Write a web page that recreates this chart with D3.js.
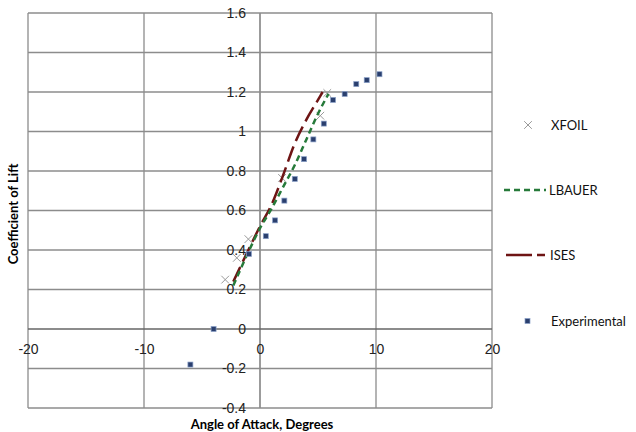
<!DOCTYPE html>
<html>
<head>
<meta charset="utf-8">
<script src="https://cdn.jsdelivr.net/npm/d3@7"></script>
<style>
  body { margin: 0; background: #fff; }
  svg { font-family: Lato, "Open Sans", sans-serif; }
  .tick text { font-size: 14px; fill: #222; }
</style>
</head>
<body>
<div class="chart"></div>
<script>
var svgWidth = 636;
var svgHeight = 432;

var margin = { top: 13, right: 144, bottom: 24, left: 28 };
var width = svgWidth - margin.left - margin.right;
var height = svgHeight - margin.top - margin.bottom;

// data: [angle, cl]
var xfoil = [[-3, 0.25], [-2, 0.36], [-1, 0.455], [1.9, 0.765], [5.2, 1.08], [5.8, 1.195]];
var lbauer = [[-2.3, 0.22], [-1, 0.39], [0, 0.51], [1, 0.61], [2, 0.72], [3, 0.83], [4, 0.96], [5, 1.09], [5.9, 1.19]];
var ises = [[-2.3, 0.24], [-1, 0.40], [0, 0.52], [1, 0.63], [2, 0.78], [3, 0.94], [4, 1.06], [5, 1.16], [5.4, 1.2]];
var experimental = [[-6, -0.18], [-4, 0], [-0.95, 0.38], [0.5, 0.47], [1.3, 0.55], [2.1, 0.65], [3, 0.76],
  [3.8, 0.86], [4.6, 0.96], [5.5, 1.04], [6.3, 1.16], [7.3, 1.19], [8.3, 1.24], [9.2, 1.26], [10.3, 1.29]];

var xTicks = [-20, -10, 0, 10, 20];
var yTicks = [-0.4, -0.2, 0, 0.2, 0.4, 0.6, 0.8, 1, 1.2, 1.4, 1.6];
var seriesNames = ["XFOIL", "LBAUER", "ISES", "Experimental"];

var svg = d3.select(".chart")
  .append("svg")
  .attr("width", svgWidth)
  .attr("height", svgHeight);

var chart = svg.append("g")
  .attr("transform", "translate(" + margin.left + "," + margin.top + ")");

var xScale = d3.scaleLinear().domain([-20, 20]).range([0, width]);
var yScale = d3.scaleLinear().domain([-0.4, 1.6]).range([height, 0]);

// gridlines
chart.selectAll("line.vgrid")
  .data(xTicks)
  .enter().append("line")
    .attr("class", "vgrid")
    .attr("x1", function(d) { return xScale(d); })
    .attr("x2", function(d) { return xScale(d); })
    .attr("y1", 0)
    .attr("y2", height)
    .attr("stroke", function(d) { return d === 0 ? "#666" : "#8c8c8c"; })
    .attr("stroke-width", 1.3);

chart.selectAll("line.hgrid")
  .data(yTicks)
  .enter().append("line")
    .attr("class", "hgrid")
    .attr("x1", 0)
    .attr("x2", width)
    .attr("y1", function(d) { return yScale(d); })
    .attr("y2", function(d) { return yScale(d); })
    .attr("stroke", function(d) { return d === 0 ? "#666" : "#8c8c8c"; })
    .attr("stroke-width", 1.3);

var fmt = function(d) { return d3.format("")(+d.toFixed(1)).replace("\u2212", "-"); };

// x labels sit under the zero line
var bottomAxis = d3.axisBottom(xScale).tickValues(xTicks).tickSize(0).tickPadding(15).tickFormat(fmt);
chart.append("g")
  .attr("transform", "translate(0," + yScale(0) + ")")
  .call(bottomAxis)
  .call(function(g) { g.select(".domain").remove(); });

// y labels sit left of the zero line
var leftAxis = d3.axisLeft(yScale).tickValues(yTicks).tickSize(0).tickPadding(14).tickFormat(fmt);
chart.append("g")
  .attr("transform", "translate(" + xScale(0) + ",0)")
  .call(leftAxis)
  .call(function(g) { g.select(".domain").remove(); });

// XFOIL crosses
var cross = d3.symbol().type(d3.symbolX).size(40);
chart.selectAll("path.xfoil")
  .data(xfoil)
  .enter().append("path")
    .attr("class", "xfoil")
    .attr("d", cross)
    .attr("transform", function(d) { return "translate(" + xScale(d[0]) + "," + yScale(d[1]) + ")"; })
    .attr("fill", "none")
    .attr("stroke", "#9a9a9a")
    .attr("stroke-width", 1);

var line = d3.line()
  .x(function(d) { return xScale(d[0]); })
  .y(function(d) { return yScale(d[1]); })
  .curve(d3.curveMonotoneX);

chart.append("path")
  .datum(ises)
  .attr("d", line)
  .attr("fill", "none")
  .attr("stroke", "#6e1414")
  .attr("stroke-width", 2.5)
  .attr("stroke-dasharray", "16,6");

chart.append("path")
  .datum(lbauer)
  .attr("d", line)
  .attr("fill", "none")
  .attr("stroke", "#267a3a")
  .attr("stroke-width", 2.5)
  .attr("stroke-dasharray", "6,4");

chart.selectAll("rect.exp")
  .data(experimental)
  .enter().append("rect")
    .attr("class", "exp")
    .attr("x", function(d) { return xScale(d[0]) - 2.5; })
    .attr("y", function(d) { return yScale(d[1]) - 2.5; })
    .attr("width", 5)
    .attr("height", 5)
    .attr("fill", "#2a3f6e")
    .attr("stroke", "#8aa0c8")
    .attr("stroke-width", 0.7);

// axis titles
svg.append("text")
  .attr("x", 262)
  .attr("y", 429)
  .attr("text-anchor", "middle")
  .style("font-size", "13px")
  .style("font-weight", "bold")
  .text("Angle of Attack, Degrees");

svg.append("text")
  .attr("transform", "translate(18,214) rotate(-90)")
  .attr("text-anchor", "middle")
  .style("font-size", "13px")
  .style("font-weight", "bold")
  .text("Coefficient of Lift");

// legend
var legend = svg.append("g").attr("transform", "translate(504,0)");
var legY = [125, 190, 255, 321];

legend.selectAll("text")
  .data(seriesNames)
  .enter().append("text")
    .attr("x", function(d, i) { return i === 1 ? 45 : (i === 2 ? 46 : 47); })
    .attr("y", function(d, i) { return legY[i]; })
    .attr("dy", "0.35em")
    .style("font-size", "13px")
    .style("fill", "#111")
    .text(function(d) { return d; });

legend.append("path")
  .attr("d", cross)
  .attr("transform", "translate(24," + legY[0] + ")")
  .attr("fill", "none")
  .attr("stroke", "#9a9a9a");

legend.append("line")
  .attr("x1", 0).attr("x2", 42)
  .attr("y1", legY[1]).attr("y2", legY[1])
  .attr("stroke", "#267a3a")
  .attr("stroke-width", 2.5)
  .attr("stroke-dasharray", "6,4");

legend.append("line")
  .attr("x1", 2).attr("x2", 43)
  .attr("y1", legY[2]).attr("y2", legY[2])
  .attr("stroke", "#6e1414")
  .attr("stroke-width", 2.5)
  .attr("stroke-dasharray", "26,5,8,5");

legend.append("rect")
  .attr("x", 21).attr("y", legY[3] - 2.5)
  .attr("width", 5).attr("height", 5)
  .attr("fill", "#2a3f6e")
  .attr("stroke", "#8aa0c8")
  .attr("stroke-width", 0.7);
</script>
</body>
</html>
